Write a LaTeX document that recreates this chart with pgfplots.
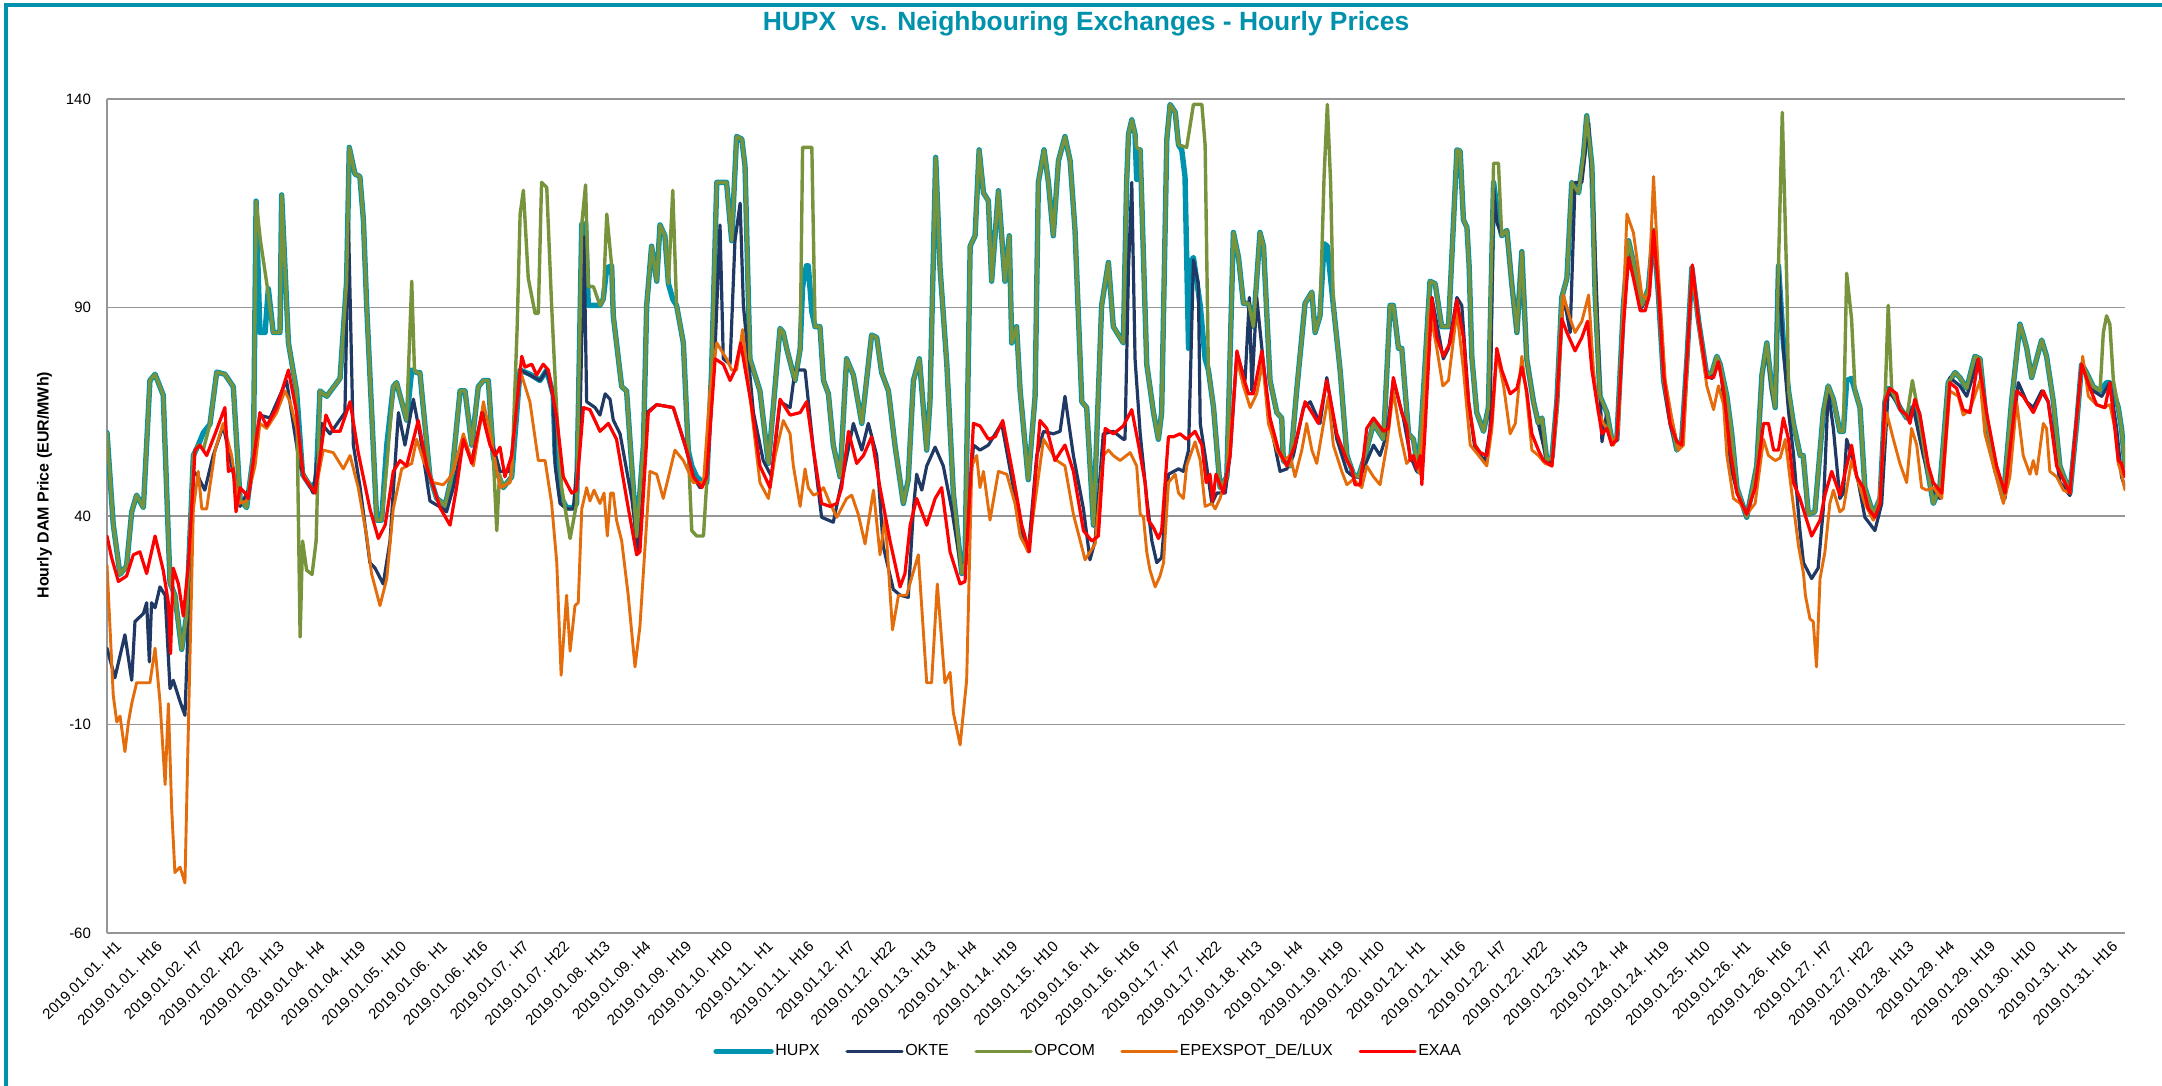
\documentclass[border=0pt]{standalone}
\usepackage{fontspec}
\setmainfont{Liberation Sans}
\usepackage{pgfplots}
\pgfplotsset{compat=1.18}
\definecolor{hupx}{RGB}{0,147,175}
\definecolor{okte}{RGB}{31,56,100}
\definecolor{opcom}{RGB}{119,147,60}
\definecolor{epex}{RGB}{228,108,10}
\definecolor{exaa}{RGB}{255,0,0}
\definecolor{gridgray}{RGB}{150,150,150}
\definecolor{titleteal}{RGB}{0,146,172}
\begin{document}
\begin{tikzpicture}[x=1pt,y=1pt]
\path[use as bounding box] (0,0) rectangle (1081,543);
\draw[titleteal, line width=2pt] (2.9,0) -- (2.9,540.7) -- (1081,540.7);
\node[font=\bfseries\fontsize{13.2}{15}\selectfont, text=titleteal] at (543,531) {HUPX\ \ vs. Neighbouring Exchanges - Hourly Prices};
\begin{axis}[
  at={(53.5pt,76.5pt)}, anchor=south west,
  scale only axis, width=1009pt, height=417pt,
  xmin=0, xmax=743, ymin=-60, ymax=140,
  axis x line*=bottom, axis y line*=left,
  axis line style={gridgray, line width=1pt, -},
  ymajorgrids, grid style={gridgray, line width=0.7pt},
  major tick length=0pt,
  ytick={-60,-10,40,90,140},
  yticklabels={-60,-10,40,90,140},
  yticklabel style={font=\fontsize{7.5}{9}\selectfont, xshift=-4.5pt},
  xtick={0,15,...,735},
  xticklabels={2019.01.01. H1,2019.01.01. H16,2019.01.02. H7,2019.01.02. H22,2019.01.03. H13,2019.01.04. H4,2019.01.04. H19,2019.01.05. H10,2019.01.06. H1,2019.01.06. H16,2019.01.07. H7,2019.01.07. H22,2019.01.08. H13,2019.01.09. H4,2019.01.09. H19,2019.01.10. H10,2019.01.11. H1,2019.01.11. H16,2019.01.12. H7,2019.01.12. H22,2019.01.13. H13,2019.01.14. H4,2019.01.14. H19,2019.01.15. H10,2019.01.16. H1,2019.01.16. H16,2019.01.17. H7,2019.01.17. H22,2019.01.18. H13,2019.01.19. H4,2019.01.19. H19,2019.01.20. H10,2019.01.21. H1,2019.01.21. H16,2019.01.22. H7,2019.01.22. H22,2019.01.23. H13,2019.01.24. H4,2019.01.24. H19,2019.01.25. H10,2019.01.26. H1,2019.01.26. H16,2019.01.27. H7,2019.01.27. H22,2019.01.28. H13,2019.01.29. H4,2019.01.29. H19,2019.01.30. H10,2019.01.31. H1,2019.01.31. H16},
  xticklabel style={font=\fontsize{7.5}{9}\selectfont, rotate=45, anchor=north east, inner sep=1pt, xshift=1.5pt, yshift=-4pt},
  ylabel={Hourly DAM Price (EUR/MWh)},
  ylabel style={font=\bfseries\fontsize{8}{10}\selectfont, at={(axis description cs:-0.031,0.537)}, anchor=center},
  legend style={at={(axis description cs:0.3003,-0.142)}, anchor=west, draw=none, fill=none, inner sep=0pt,
    legend columns=-1, font=\fontsize{8}{9.6}\selectfont, nodes={inner sep=0.8pt},
    /tikz/every even column/.append style={column sep=12pt}},
  legend image code/.code={\draw[#1] (0pt,0pt) -- (27.5pt,0pt);},
  every axis plot/.append style={line join=round, line cap=round},
]
% HUPX
\addplot[hupx, line width=2.7pt] coordinates {
(0,60) (2.3,38) (4.8,26) (7.2,28) (9.1,41) (10.9,45) (13.4,42) (15.8,72.5) (17.7,74) (20.7,69) (23.2,24) (25,21) (27.5,8) (29.3,16) (31.8,54.5) (33.6,57) (35.5,60) (37.9,62) (40.4,74.5) (43.4,74) (46.5,71) (49,44) (51.4,42) (53.9,54.5) (54.9,115.5) (56.3,84) (58.2,84) (59.4,94.5) (61.2,84) (63.7,84) (64.3,117) (66.8,81.5) (69.8,70) (72,50) (75,47) (77,48) (78.4,70) (80.9,68.7) (85.8,73) (88.2,96) (89.2,128.4) (91.3,122) (93.1,121.4) (94.4,111) (95.6,90.5) (99.3,39) (101.1,39) (103,57) (105.4,71) (106.6,72) (110.3,63) (112.2,75) (114,74.4) (115.2,74.4) (118.9,49.4) (121.4,44.2) (123.8,43) (124.4,42.3) (126.9,49.4) (130,70) (131.8,70) (134.3,57) (136.7,71) (138.6,72.5) (140.4,72.5) (142.2,54.5) (143.5,50.7) (145.9,46.8) (149,49.4) (152.1,75) (155.7,74) (159.4,72.5) (161.9,75) (164.3,69) (165,55) (166.8,45) (169.2,42) (171.7,42) (172.9,43) (174.8,110) (176.2,110) (177.2,90.5) (181.5,90.5) (182.7,92) (184,99.5) (185.8,100) (186.4,88) (189.5,71) (191.3,70) (195,35) (197.5,57) (198.7,90.5) (200.5,104.7) (202.4,96.3) (203.6,109.8) (205.4,107.2) (206.7,95.7) (208.3,92) (209.7,90.5) (212.2,81.5) (214,55.8) (215.3,52) (217.1,49.4) (219.6,48) (220.8,48) (222.6,75) (224.5,120) (228.1,120) (230,106) (231.8,131) (233.7,130.4) (234.9,124) (236.7,77.7) (240.4,70) (243.5,52.6) (245.3,66) (247.8,85) (249,84) (250.3,80) (253.3,72.5) (255.2,80) (256.1,95) (257.5,100) (258.2,100) (259.5,89) (260.7,85.4) (262.5,85.4) (263.8,72.5) (265.6,69.3) (267.4,57) (269.9,49.4) (272.3,77.7) (274.8,73.8) (277.9,62.2) (281.5,83.4) (283.4,82.8) (285.2,74.4) (287.7,70) (290.1,57) (293.2,43) (295,48.7) (296.9,72.5) (299.1,77.7) (301.8,55.8) (303,67.4) (305.1,126) (306.7,99.5) (309.2,76.4) (311.6,45.5) (314.7,26.2) (315.9,28.8) (317.8,104.7) (319.6,107.2) (321.1,127.8) (322.7,117.5) (324.5,115.6) (325.7,96.3) (328.2,118) (330.6,96.3) (332.2,107.2) (333.1,81.5) (334.9,85.4) (336.2,70) (339.2,48.7) (341.7,68.7) (342.9,120) (345,127.8) (346.6,120) (348.4,107.2) (350.3,125.2) (352.7,131) (354.6,125.2) (356.4,108.5) (358.9,67.4) (360.7,66) (363.2,37.8) (366.2,90.5) (368.7,100.8) (370.5,85.4) (374.2,81.5) (375.4,120) (376.1,131.6) (377.3,135) (378.5,131.6) (379.1,120.7) (380.4,127.8) (382.8,76.4) (385.3,64.8) (387.1,58.4) (388.3,64.8) (390.2,130.4) (391.4,138.7) (393.3,136.8) (394.5,129) (395.7,127.8) (396.9,121.4) (398.2,80.2) (398.8,100.8) (400,102) (402.5,90.5) (404.3,77.7) (405.5,75) (407.4,66) (409.8,46.8) (412.3,49.4) (414.7,108) (416.6,102) (418.4,91) (420.3,91) (422.1,85.4) (424.5,108) (425.8,104.7) (428.2,72.5) (430.7,64.8) (432.5,63.5) (433.1,53.3) (435.6,52) (438,70) (441.1,91) (443.6,93.7) (444.8,84) (446.6,88) (448.1,105.3) (449.3,104.7) (451.5,90.5) (454,75) (456.5,54.5) (458.9,50) (460.8,49.4) (463.2,54.5) (466.3,62.2) (470,58.4) (472.4,90.5) (473.6,90.5) (475.5,80.2) (476.7,80.2) (479.2,59.7) (481,58.4) (482.8,50.7) (484.7,70) (487.1,96.3) (489,95.7) (491.4,85.4) (493.9,85.4) (495.7,109.8) (497,127.8) (498.2,127.5) (499.4,111) (500.7,109.2) (501.5,100) (502.5,78) (504.3,64.8) (506.8,60.3) (508.6,66) (510.5,120) (512.3,111) (513.5,107.2) (515.4,108.5) (517.2,95.7) (519.1,84) (520.9,103.4) (522.7,77.7) (525.2,67.4) (527,62.2) (528.3,63.5) (530.1,53.3) (532,54) (533.8,67.4) (535.6,92.4) (537.5,97) (539.3,120) (541.8,117.5) (543.6,126.5) (544.8,136) (546.7,124) (547.9,93) (549.7,68.7) (552.2,64.8) (554,58.4) (555.9,58.4) (558.3,90.5) (560.2,106) (562,100.8) (565.1,90.5) (567.5,94.4) (569.4,108.5) (571.2,93) (573.1,72.5) (575.5,63.5) (578,55.8) (579.8,58.4) (581.7,77.7) (583.5,99.5) (586,86.7) (589,73.8) (590.9,74.4) (592.7,78.3) (593.9,76.4) (596.4,68.7) (598.2,59.7) (600.1,46.8) (603.7,39.7) (607.4,52) (609.3,73.8) (611.1,81.5) (612.9,71) (614.2,66) (615.4,100) (617.2,81.5) (619.1,70) (620.9,62.2) (623.4,54.5) (624.5,54.5) (626.4,40.4) (628.8,41) (631.9,64.8) (633.7,71.2) (635.6,68) (638,60.3) (639.3,60.3) (640.5,72.5) (642.3,73) (643.6,70) (645.4,66) (647.2,46.8) (650.3,40.4) (652.8,44.2) (654.6,67.4) (655.8,70.6) (657.1,70) (660.1,66) (662.6,63.5) (664.7,66) (666.9,64.8) (670,52) (672.4,43) (674.8,46.8) (677.9,72) (680.4,74.4) (682.2,73.2) (684.7,70.6) (687.7,78.3) (689.6,77.7) (692,62.2) (695.1,52) (698.2,44.2) (701.2,67.4) (704.3,86) (705.5,83.4) (706.8,80.2) (708.6,73.2) (712.3,82.2) (714.1,78.3) (716.6,67.4) (719,52) (722.7,45.5) (725.2,62.2) (727,76.4) (728.8,74.4) (731.3,71) (733.8,70) (736.2,72) (737.4,72) (738.7,70) (740.5,66) (741.7,61) (743,52)
};
\addlegendentry{HUPX}
% OKTE
\addplot[okte, line width=1.6pt] coordinates {
(0,8.3) (2.9,1.2) (6.6,11.5) (9.1,0.6) (10.3,14.7) (13.4,16.6) (14.6,19.2) (15.6,5) (16.4,19.2) (17.7,18) (19.5,23) (21.4,21) (23.2,-1.4) (24.4,0.6) (26.9,-4.5) (28.7,-7.8) (30,16) (31.8,50.7) (33.6,49.4) (36,46.2) (39.1,54.5) (42.8,61.6) (45.9,52) (49,42.3) (52.6,46.8) (56.3,64.2) (60,63.5) (66.1,72.5) (71,52) (75.9,45.5) (79,62.2) (82.1,59.7) (87.6,64.8) (88.9,110.4) (90.7,57) (93.2,46.8) (96.8,28.8) (98.7,27.5) (101.7,23.7) (104.2,34) (107.3,64.8) (109.7,57) (112.8,68) (115.2,59.7) (118.9,43.6) (123.8,41.7) (125,41) (127.5,46.8) (131.2,58.4) (134.3,53.3) (138.6,66) (141,59.7) (144.7,50.7) (148.4,50.7) (152.1,75) (155.7,73.8) (159.4,72.5) (161.9,75) (164.3,68.7) (165,52) (166.8,43) (169.2,41.7) (171.7,41.7) (174.1,61) (175.6,107) (176.6,67.4) (179.7,66) (181.5,64.2) (183.4,69.3) (185.2,68) (186.4,63) (188.9,59.7) (193.2,44.2) (195.6,31.4) (198.7,64.8) (202.4,66.7) (208.5,66) (212.8,57) (215.9,49.4) (218.3,46.8) (220.8,49.4) (223.9,80.2) (225.7,109.8) (226.9,77.7) (229.4,76.4) (231.2,106) (233.1,115) (234.3,90.5) (238,64.8) (241.6,53.3) (244.7,49.4) (247.8,67.4) (251.5,66) (253.3,75) (257,75) (260.1,55.8) (263.1,39.7) (267.4,38.5) (271.7,52) (274.8,62.2) (277.9,55.8) (280.3,62.2) (283.4,54.5) (285.8,32.7) (289.5,22.4) (292,21) (295,20.5) (296.9,41.7) (298.1,50) (300,46.2) (301.8,52) (304.9,56.5) (307.9,52) (311,41.7) (314.1,28.8) (315.9,28.2) (319,57) (321.4,55.8) (324.5,57) (329.4,62.2) (333.7,46.8) (336.8,36.5) (339.2,31.4) (342.3,54.5) (344.8,60.3) (348.4,59.7) (350.9,60.3) (352.7,68.7) (355.8,54.5) (359.5,41.7) (361.9,29.5) (363.8,34) (366.8,59.7) (370.5,60.3) (374.2,58.4) (374.8,58.4) (376.1,99.5) (377.3,120) (378.5,77.7) (380.4,59.7) (382.8,44.2) (384.7,34) (386.5,28.8) (388.3,30) (390.8,50) (394.5,51.3) (396.3,50.7) (398.2,55.8) (400,101.4) (401.8,95.7) (402.5,62.2) (404.3,54.5) (406.8,43) (408.6,45.5) (411.7,45.5) (413.5,54.5) (416,79) (419,72.5) (420.6,92.4) (421.5,70) (423.3,92.4) (425.2,80.2) (427.6,64.8) (430.7,54.5) (431.9,50.7) (434.4,51.3) (436.8,54.5) (440.5,66) (443,67.4) (446.6,62.2) (449.1,73.2) (452.8,58.4) (456.5,50.7) (458.9,49.4) (461.4,49.4) (466.3,57) (468.7,54.5) (471.2,59.7) (473.6,72.5) (477.3,63.5) (479.8,54.5) (482.2,50.7) (485.3,64.8) (487.8,92.4) (492,77.7) (493.9,80.2) (497,92.4) (498.8,90.5) (501.3,67.4) (503.7,55.8) (507.4,53.3) (509.2,61) (510.5,118.8) (511.7,110.4) (513.5,107.2) (515.4,108.5) (517.2,95.7) (519.1,84) (520.9,103.4) (522.7,77.7) (525.2,67.4) (527,62.2) (530.1,53.3) (532,53) (533.8,67.4) (536.2,93) (538.7,84) (540.5,120) (543,120) (545.5,134.2) (547.3,113.6) (550.4,57.8) (552.2,64.8) (554,58) (555.9,58) (558.3,90) (560.2,105.5) (562,100.5) (565.1,90) (567.5,94) (569.4,108) (571.2,93) (573.1,72) (575.5,62) (578,56) (579.8,58) (581.7,77.5) (583.5,99.5) (586,86.5) (589,73.5) (590.9,73) (592.7,78) (594,76) (596.4,60) (598.2,50.7) (600.1,46) (603.7,39.7) (607.4,52) (609.3,73.5) (611.1,81) (612.9,70) (614.2,66) (615.4,100) (617.2,80) (619.1,65) (620.9,55) (623.3,36.5) (624.6,28.8) (627.6,25) (630,27.5) (631.9,41.7) (633.7,70) (635.6,61) (638,44.2) (639.3,45.5) (640.5,58.4) (642.3,54.5) (644.8,48.1) (647.2,39.7) (650.9,36.5) (653.4,43) (655.8,70) (658.9,67.4) (662.6,63.5) (665,66) (668.7,54.5) (671.8,46.8) (674.8,44.2) (678.5,73.2) (682.2,71.2) (684.7,68.7) (689,77.7) (692,62.2) (695.1,50.7) (698.8,44.2) (703.7,72) (706.8,67.4) (709.2,66) (712.3,70) (714.7,67.4) (719,48.1) (722.7,44.9) (727,76.4) (731.3,70) (734.4,68.7) (737.4,72) (739.9,61) (741.7,49.4) (743,46.8)
};
\addlegendentry{OKTE}
% OPCOM
\addplot[opcom, line width=1.7pt] coordinates {
(0,60) (2.3,38) (4.8,26) (7.2,28) (9.1,41) (10.9,45) (13.4,42) (15.8,72.5) (17.7,74) (20.7,69) (23.2,24) (25,21) (27.5,8) (29.3,16) (31.8,54.5) (33.6,57) (35.5,56) (37.9,62) (40.4,74.5) (43.4,74) (46.5,71) (49,44) (51.4,42) (53.9,54.5) (54.9,115.5) (56.5,106) (59,95) (61.2,84) (63.7,84) (64.3,117) (66.8,81.5) (69.8,70) (71.1,11) (72,34) (73.5,27) (75.5,26) (77,34) (78.4,70) (80.9,68.7) (85.8,73) (88.2,96) (89.2,128.4) (91.3,122) (93.1,121.4) (94.4,111) (95.6,90.5) (99.3,39) (101.1,39) (103,52) (105.4,71) (106.6,72) (110.3,63) (112.2,96.3) (113.2,75) (114,74.4) (115.2,74.4) (118.9,49.4) (121.4,44.2) (123.8,43) (124.4,42.3) (126.9,49.4) (130,70) (131.8,70) (134.3,57) (136.7,71) (138.6,72.5) (140.4,72.5) (142.2,54.5) (143.5,36.5) (144.5,50) (145.9,46.8) (149,49.4) (151,85) (152.1,112.4) (153.3,118.1) (155.1,97) (157.6,88.6) (158.8,88.6) (160,120) (161.9,118.8) (163.7,90.5) (165.6,64.8) (167.4,46.8) (170.5,34.6) (172.9,43) (174.8,110) (176.2,119.4) (177.2,95) (179.1,95) (181.5,90.5) (182.7,91.8) (184,112.4) (185.8,100) (186.4,88) (189.5,71) (191.3,70) (195,35) (197.5,57) (198.7,90.5) (200.5,104.7) (202.4,96.3) (203.6,109.8) (205.4,107.2) (206.7,95.7) (208.3,118.1) (209.7,90.5) (212.2,81.5) (214,55.8) (215.3,36.5) (217.1,35.2) (219.6,35.2) (220.8,48) (222.6,75) (224.5,120) (228.1,120) (230,106) (231.8,131) (233.7,130.4) (234.9,124) (236.7,77.7) (240.4,70) (243.5,52.6) (245.3,66) (247.8,85) (249,84) (250.3,80) (253.3,72.5) (255.2,80) (256.1,128.4) (259.5,128.4) (260.7,85.4) (262.5,85.4) (263.8,72.5) (265.6,69.3) (267.4,57) (269.9,49.4) (272.3,77.7) (274.8,73.8) (277.9,62.2) (281.5,83.4) (283.4,82.8) (285.2,74.4) (287.7,70) (290.1,57) (293.2,43) (295,48.7) (296.9,72.5) (299.1,77.7) (301.8,55.8) (303,67.4) (305.1,126) (306.7,99.5) (309.2,76.4) (311.6,45.5) (314.7,26.2) (315.9,28.8) (317.8,104.7) (319.6,107.2) (321.1,127.8) (322.7,117.5) (324.5,115.6) (325.7,96.3) (328.2,118) (330.6,96.3) (332.2,107.2) (333.1,81.5) (334.9,85.4) (336.2,70) (339.2,48.7) (341.7,68.7) (342.9,120) (345,127.8) (346.6,120) (348.4,107.2) (350.3,125.2) (352.7,131) (354.6,125.2) (356.4,108.5) (358.9,67.4) (360.7,66) (363.2,37.8) (366.2,90.5) (368.7,100.8) (370.5,85.4) (374.2,81.5) (375.4,120) (376.1,131.6) (377.3,135) (378.5,131.6) (379.1,128.4) (380.4,127.8) (382.8,76.4) (385.3,64.8) (387.1,58.4) (388.3,64.8) (390.2,130.4) (391.4,138.7) (393.3,136.8) (394.5,129) (397.5,128.4) (400,138.7) (403.1,138.7) (404.3,129) (405.5,75) (407.4,66) (409.8,46.8) (412.3,49.4) (414.7,108) (416.6,102) (418.4,91) (420.3,91) (422.1,85.4) (424.5,108) (425.8,104.7) (428.2,72.5) (430.7,64.8) (432.5,63.5) (433.1,53.3) (435.6,52) (438,70) (441.1,91) (443.6,93.7) (444.8,84) (446.6,88) (448.1,121.4) (449.3,138.7) (450.5,120) (451.5,90.5) (454,75) (456.5,54.5) (458.9,50) (460.8,49.4) (463.2,54.5) (466.3,62.2) (470,58.4) (472.4,90.5) (473.6,90.5) (475.5,80.2) (476.7,80.2) (479.2,59.7) (481,58.4) (482.8,50.7) (484.7,70) (487.1,96.3) (489,95.7) (491.4,85.4) (493.9,85.4) (495.7,109.8) (497,127.8) (498.2,127.5) (499.4,111) (500.7,109.2) (501.5,100) (502.5,78) (504.3,64.8) (506.8,60.3) (508.6,66) (510.5,124.6) (512.3,124.6) (513.5,107.2) (515.4,108.5) (517.2,95.7) (519.1,84) (520.9,103.4) (522.7,77.7) (525.2,67.4) (527,62.2) (528.3,63.5) (530.1,53.3) (532,54) (533.8,67.4) (535.6,92.4) (537.5,97) (539.3,120) (541.8,117.5) (543.6,126.5) (544.8,136) (546.7,124) (547.9,93) (549.7,68.7) (552.2,64.8) (554,58.4) (555.9,58.4) (558.3,90.5) (560.2,106) (562,100.8) (565.1,90.5) (567.5,94.4) (569.4,108.5) (571.2,93) (573.1,72.5) (575.5,63.5) (578,55.8) (579.8,58.4) (581.7,77.7) (583.5,99.5) (586,86.7) (589,73.8) (590.9,74.4) (592.7,78.3) (593.9,76.4) (596.4,68.7) (598.2,59.7) (600.1,46.8) (603.7,39.7) (607.4,52) (609.3,73.8) (611.1,81.5) (612.9,71) (614.2,66) (615.4,100) (616.8,136.8) (618.5,95) (619.1,70) (620.9,62.2) (623.4,54.5) (624.5,54.5) (626.4,40.4) (628.8,41) (631.9,64.8) (633.7,71.2) (635.6,68) (638,60.3) (639.3,60.3) (640.5,98.2) (642.3,87.3) (643.6,70) (645.4,66) (647.2,46.8) (650.3,40.4) (652.8,44.2) (654.6,67.4) (655.8,90.5) (657.1,70) (660.1,66) (662.6,63.5) (664.7,72.5) (666.9,64.8) (670,52) (672.4,43) (674.8,46.8) (677.9,72) (680.4,74.4) (682.2,73.2) (684.7,70.6) (687.7,78.3) (689.6,77.7) (692,62.2) (695.1,52) (698.2,44.2) (701.2,67.4) (704.3,86) (705.5,83.4) (706.8,80.2) (708.6,73.2) (712.3,82.2) (714.1,78.3) (716.6,67.4) (719,52) (722.7,45.5) (725.2,62.2) (727,76.4) (728.8,74.4) (731.3,71) (733.8,70) (735,84) (736.2,88) (737.4,86) (738.7,72.5) (740.5,66) (741.7,61) (743,52)
};
\addlegendentry{OPCOM}
% EPEX
\addplot[epex, line width=1.45pt] coordinates {
(0,28.2) (2.3,-3) (3.6,-9.4) (4.8,-8) (6.6,-16.5) (7.9,-9.4) (9.1,-5) (10.9,0) (15.8,0) (17.7,8.3) (19.5,-4.5) (21.4,-24.4) (22.6,-5) (23.8,-30) (25,-45.5) (26.9,-44.2) (28.7,-48) (30,-9.4) (31.8,41.7) (33.6,50.7) (34.9,41.7) (36.7,41.7) (39.8,55.8) (42.8,62.2) (45.9,54.5) (48.4,43) (51.4,43.6) (54.5,52) (56.3,62.2) (58.8,61) (62.5,64.8) (65.5,70) (67.4,67.4) (69.8,61) (72.3,50) (76.6,45.5) (79.6,55.8) (83.3,55.2) (87,51.3) (89.5,54.5) (92.5,46.8) (95.6,35.2) (97.4,26.2) (100.5,18.5) (103,25) (105.4,41.7) (108.5,51.3) (112.2,52.6) (114,58.4) (116.5,53.3) (120.1,48) (123.8,47.5) (125.7,48.8) (127.5,50.7) (131.2,59.7) (134.9,52) (138.6,67.4) (142.2,55.8) (144.7,46.8) (148.4,48) (152.1,75) (155.7,67.4) (158.8,53.3) (161.3,53.3) (163.7,43) (165.6,28.8) (167.2,1.8) (169.2,21) (170.5,7.6) (172.3,18.5) (173.5,19.2) (174.8,41.7) (176.6,46.8) (177.8,43.6) (179.3,46.2) (181.5,43) (183,45.5) (184.2,35.2) (185.4,45.5) (186.4,45.5) (187.6,39) (189.5,34) (191.9,21) (194.4,3.8) (196.2,13.4) (198.1,32.7) (199.9,50.7) (202.4,50) (204.8,44.2) (209.1,55.8) (212.2,53.3) (215.9,48) (219.6,48) (222,70) (224.5,81.5) (228.1,77.7) (230,75) (231.8,75) (234,84.7) (237.4,64.8) (240.4,48) (243.5,44.2) (246,54.5) (249,62.9) (251.5,59.7) (252.7,52) (255.2,42.3) (257,51.3) (258.2,46.8) (260.1,45) (261.9,45.5) (263.8,46.8) (266.2,43) (268.7,39.7) (272.3,44.2) (274.2,45) (276.6,40.4) (279.1,33.3) (282.2,46.2) (284.6,30.7) (286.5,39.7) (289.2,12.7) (291.4,21) (294.4,21) (298.7,30.7) (301.8,0) (303.6,0) (305.7,23.7) (308.5,0) (310.4,2.5) (311.6,-7.2) (314.1,-14.9) (316.5,0.6) (318.4,52) (320.2,54.5) (321.4,46.8) (322.7,50.7) (325.1,39) (328.2,50.7) (331.3,50) (334.3,43) (336.2,35.2) (339.2,31.4) (344.8,58.4) (349.7,53.3) (352.7,52) (355.8,40.4) (360.1,29.5) (363.8,33.3) (366.8,54.5) (368.7,55.8) (370.5,54.5) (373,53.3) (376.7,55.2) (379.1,52) (380.4,40.4) (381.6,39.7) (382.8,31.4) (384,27) (385.9,23) (387.7,25.6) (389,28.8) (390.8,48) (393.3,50) (394.5,45.5) (396.3,44.2) (397.5,52) (400.6,57.8) (402.5,53.3) (404.3,42.3) (406.8,43) (408,41.7) (409.8,44.2) (412.3,49.4) (416,77.7) (418.4,71.2) (420.9,66) (423.3,69.3) (425.5,77) (427.6,62.2) (430.7,55.8) (433.1,53.3) (435.6,54.5) (437.4,49.4) (439.9,55.8) (441.7,62.2) (443.6,55.8) (445.4,52.6) (447.9,62.2) (449.7,68.7) (451.5,57) (454.6,50.7) (456.5,47.5) (458.9,48.8) (462,46.8) (463.8,52) (466.3,49.4) (468.7,47.5) (471.2,57) (473.6,70) (476.1,59.7) (478.5,52.6) (481,54.5) (483.5,50) (487.1,89.2) (489.6,80.2) (491.8,71.2) (493.9,72.5) (497,89.2) (499.4,75) (501.9,57) (505,54.5) (508,52) (509.9,61) (511.7,79) (514.2,71.2) (516.6,59.7) (518.5,62.2) (520.9,78.3) (522.7,68.7) (524.6,55.8) (527,54.5) (529.5,52.6) (532,52) (533.8,64.8) (536.2,93) (538.7,87.3) (540.5,84) (543,86.7) (545.5,93) (547.3,75) (549.1,64.8) (551,62.2) (552.8,60.3) (554.7,57) (556.5,61) (558.3,90.5) (559.6,112.4) (562,107.9) (565.1,93) (567.5,91.8) (569.4,121.4) (571.2,98.2) (573.7,72.5) (576.1,63.5) (578.6,55.8) (580.4,57) (583.5,98.9) (586.6,82.8) (589,71.2) (591.5,65.5) (593.3,71.2) (595.2,66.7) (596.4,54.5) (598.8,44.2) (601.3,43) (603.7,40.4) (606.8,43) (609.9,58.4) (611.7,54.5) (614.2,53.3) (616,53.9) (617.9,58.4) (620.3,45.5) (622.8,32.7) (624.6,26.2) (625.3,21) (627,15.3) (628.2,14.7) (629.4,3.8) (630.7,25) (632.5,31.4) (634.3,43) (635.6,46.2) (638,41) (639.3,41.7) (642.3,53.3) (644.2,49.4) (647.2,43) (650.3,39) (652.1,41.7) (655.2,64.8) (657.7,58.4) (660.1,52.6) (662.6,48) (664.4,61) (666.3,57) (668.1,46.8) (670,46.2) (672.4,46.8) (675.5,44.2) (678.5,70) (681.6,68.7) (683.4,64.2) (685.9,65.5) (689.6,72.5) (691.4,59.7) (694.5,52) (698.2,43) (700.6,49.4) (703.1,67.4) (705.5,54.5) (708,50) (709.2,53.3) (710.4,50) (712.9,62.2) (714.1,61) (715.3,50.7) (717.8,49.4) (720.3,46.2) (722.7,45.5) (727.4,78.3) (729.5,68.7) (732.5,66.7) (735,66) (737.4,66.7) (739.3,61) (740.5,52.6) (741.7,50) (743,46.2)
};
\addlegendentry{EPEXSPOT\_DE/LUX}
% EXAA
\addplot[exaa, line width=1.6pt] coordinates {
(0,35.2) (1.7,30) (4.2,24.3) (7.2,25.6) (9.7,30.7) (12.1,31.4) (14.6,26.2) (17.7,35.2) (20.7,27) (22.6,19.2) (23.4,7) (24.4,27.5) (26.3,23.7) (28.1,16) (30,28.8) (32.4,55.8) (34.2,57) (36.7,54.5) (39.8,59.7) (43.4,66) (44.7,50.7) (46.5,51.3) (47.5,41) (49,46.8) (50.8,45.5) (52,44.2) (56.3,64.8) (58.8,61.6) (62.5,66) (66.8,75) (69.8,64.8) (72.3,49.4) (76.6,45.5) (80.6,64.2) (83.3,60.3) (85.8,60.3) (89.5,67.4) (92.5,55.2) (96.8,41.7) (99.9,34.6) (102.4,37.8) (105.4,50.7) (107.9,53.3) (110.3,52) (114.6,62.9) (117.7,52) (122.6,42) (126.3,37.8) (128.7,46.8) (131.2,58.4) (134.3,52.6) (138,64.8) (141,57) (142.9,54.5) (144.7,56.5) (146.5,49.4) (149,54.5) (152.7,78.3) (153.9,75.7) (156.4,76.4) (158.2,73.8) (160.6,76.4) (162.5,75) (165.6,63.5) (168,49.4) (171.1,45.5) (172.9,46.2) (175.4,66) (177.8,65.5) (181.5,60.3) (184.6,62.2) (187.6,58.4) (191.3,44.2) (195,30.7) (196.2,31.4) (199.3,64.8) (202.4,66.7) (208.5,66) (213.4,55.8) (215.9,49.4) (219,46.8) (220.8,49.4) (223.9,77.7) (226.9,76.4) (229.4,72.5) (231.2,75) (233.3,81.5) (237.4,66) (240.4,52) (244.1,46.8) (247.8,68) (251.5,64.2) (255.2,64.8) (257.6,67.4) (260.1,55.8) (263.1,43) (266.2,42.3) (268.7,43) (270.5,46.8) (273,60.3) (276,52.6) (278.5,54.5) (281.5,59) (284.6,46.8) (288.3,34) (292,23) (293.8,26.2) (295.7,37.8) (298.1,44.2) (301.8,37.8) (304.9,44.2) (307.3,46.8) (310.4,31.4) (314.1,23.7) (315.9,24.3) (319,62.2) (321.4,61.6) (324.5,58.4) (327,59) (329.8,62.9) (333.7,49.4) (336.8,37.8) (339.6,31.4) (343.5,62.9) (346,61) (349,53.3) (352.7,57) (355.8,50.7) (359.5,36.5) (362.6,34) (365,35.2) (367.5,61) (370.5,59.7) (374.2,61.6) (377.3,65.5) (379.8,57) (382.2,48) (383.4,39) (385.3,37.2) (387.1,34.6) (388.3,36.5) (390.8,59) (392.6,59) (395.1,59.7) (397.5,58.4) (400.6,60.3) (403.1,57) (404.7,48) (406.1,50) (407.1,43.6) (408.3,50) (411,45.5) (413.5,54.5) (416,79.6) (418.4,73.2) (420.3,69.3) (422.1,69.3) (425.2,79.6) (428.2,63.5) (431.3,55.8) (434.4,52) (437.4,57) (441.1,67.4) (443.6,64.8) (446,62.2) (449.1,72.5) (452.8,59.7) (456.5,53.3) (458.3,51.3) (459.5,47.5) (461.4,47.5) (463.8,61) (466.3,63.5) (470,60.3) (471.8,61) (473.6,73.2) (476.7,64.8) (478.5,61.6) (479.8,53.3) (481,54.5) (482.2,51.3) (483.5,54.5) (484.1,47.5) (485.3,61) (487.8,92.4) (489.6,82.8) (492,78.3) (494.5,81.5) (497,91.8) (499.4,82.8) (501.3,67.4) (503.7,57) (505.6,55.2) (508,54.5) (509.9,63.5) (511.7,80.2) (513.5,75) (516.6,69.3) (519.1,70.6) (520.9,75.7) (522.7,70) (524.6,59.7) (527,55.8) (528.9,53.3) (532,52) (533.8,67.4) (535.6,87.3) (537.5,84) (540.5,79.6) (543,82.8) (545.1,86.7) (546.7,75) (548.5,67.4) (550.4,59.7) (552.2,61) (554,57) (555.9,58.4) (558.3,85.4) (560.2,102) (562,97) (564.5,89.2) (566.3,89.2) (567.9,93) (569.4,108.5) (571.2,94.4) (573.1,73.8) (575.5,62.2) (578,57.8) (579.8,57) (581.7,77.7) (583.7,100.2) (586,86.7) (589,73.2) (591.5,73.2) (593.3,77) (595.2,70) (597.6,55.8) (600.1,45.5) (603.7,40.4) (606.8,46.8) (609.9,62.2) (611.7,62.2) (613.6,55.8) (615.4,55.8) (617.2,63.5) (619.1,58.4) (620.9,48) (623.3,44.2) (625.8,39) (627.6,35.2) (630.7,39) (632.5,45) (635,50.7) (638,45) (640.5,52) (642.3,57) (644.2,49.4) (646.6,46.8) (648.5,41.7) (650.9,39.7) (652.8,43) (654.6,67.4) (656.4,70.6) (658.9,69.3) (660.1,65.5) (662.6,64.2) (663.8,62.2) (665.6,68) (667.5,64.2) (670.6,52) (672.4,48) (675.5,45.5) (678.5,72) (681,70.6) (683.4,65.5) (685.9,64.8) (689,77.7) (692,64.8) (695.7,52) (698.8,45.5) (703.1,70) (705.5,68.7) (709.2,64.8) (712.9,70) (714.7,67.4) (717.8,52) (722.7,45.5) (727,76.4) (730.1,70.6) (732.5,66.7) (735.6,66) (737.4,72) (740.5,53.3) (741.7,52.6) (743,49.4)
};
\addlegendentry{EXAA}
\end{axis}
\end{tikzpicture}
\end{document}
